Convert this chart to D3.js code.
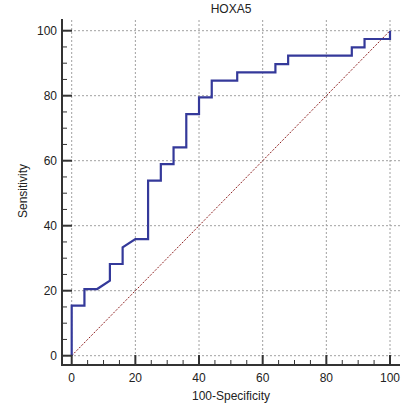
<!DOCTYPE html>
<html><head><meta charset="utf-8">
<script src="https://cdn.jsdelivr.net/npm/d3@7"></script>
<style>body{margin:0;background:#fff}svg{display:block}text{font-family:"Liberation Sans",Arial,sans-serif;fill:#222}</style>
</head><body>
<script>
const title = "HOXA5";
const xLabel = "100-Specificity";
const yLabel = "Sensitivity";
const oneMinusSpecificity = [0,0,4,4,8,12,12,16,16,20,24,24,28,28,32,32,36,36,40,40,44,44,52,52,64,64,68,68,88,88,92,92,100,100];
const sensitivity = [0,15.38,15.38,20.51,20.51,23.08,28.21,28.21,33.33,35.90,35.90,53.85,53.85,58.97,58.97,64.10,64.10,74.36,74.36,79.49,79.49,84.62,84.62,87.18,87.18,89.74,89.74,92.31,92.31,94.87,94.87,97.44,97.44,100];
const majorTicks = [0,20,40,60,80,100];

const W = 413, H = 411;
const svg = d3.select("body").append("svg").attr("width", W).attr("height", H);
const x = d3.scaleLinear().domain([0,100]).range([71.7,390]);
const y = d3.scaleLinear().domain([0,100]).range([355.7,30.7]);
const axX = 62, axY = 365;

// grid
const g = svg.append("g");
majorTicks.forEach(t => {
  g.append("line").attr("x1", x(t)).attr("x2", x(t)).attr("y1", 20).attr("y2", axY)
    .attr("stroke", "#a0a0a0").attr("stroke-width", 1).attr("stroke-dasharray", "2,2");
  g.append("line").attr("x1", axX).attr("x2", 400).attr("y1", y(t)).attr("y2", y(t))
    .attr("stroke", "#a0a0a0").attr("stroke-width", 1).attr("stroke-dasharray", "2,2");
});

// diagonal
svg.append("line").attr("x1", x(0)).attr("y1", y(0)).attr("x2", x(100)).attr("y2", y(100))
  .attr("stroke", "#8e2020").attr("stroke-width", 1).attr("stroke-dasharray", "2,1.5");

// ROC curve
const pts = oneMinusSpecificity.map((v,i) => [v, sensitivity[i]]);
svg.append("path").datum(pts)
  .attr("d", d3.line().x(d => x(d[0])).y(d => y(d[1])))
  .attr("fill", "none").attr("stroke", "#34399a").attr("stroke-width", 2.2);

// axes lines
svg.append("line").attr("x1", axX).attr("x2", axX).attr("y1", 19).attr("y2", axY+1).attr("stroke", "#333").attr("stroke-width", 2);
svg.append("line").attr("x1", axX-1).attr("x2", 400).attr("y1", axY).attr("y2", axY).attr("stroke", "#333").attr("stroke-width", 2);

// ticks
const minor = d3.range(0, 101, 5);
minor.forEach(t => {
  const maj = t % 20 === 0;
  const len = maj ? 10 : 5;
  svg.append("line").attr("x1", axX).attr("x2", axX + len).attr("y1", y(t)).attr("y2", y(t))
    .attr("stroke", "#333").attr("stroke-width", maj ? 2 : 1);
  svg.append("line").attr("y1", axY).attr("y2", axY - len).attr("x1", x(t)).attr("x2", x(t))
    .attr("stroke", "#333").attr("stroke-width", maj ? 2 : 1);
});
majorTicks.forEach(t => {
  svg.append("text").attr("x", 57).attr("y", y(t) + 4).attr("text-anchor", "end")
    .attr("font-size", 12).text(t);
  svg.append("text").attr("x", x(t)).attr("y", 382).attr("text-anchor", "middle")
    .attr("font-size", 12).text(t);
});

svg.append("text").attr("x", 231).attr("y", 13).attr("text-anchor", "middle").attr("font-size", 12).text(title);
svg.append("text").attr("x", 231).attr("y", 400).attr("text-anchor", "middle").attr("font-size", 12).text(xLabel);
svg.append("text").attr("transform", "translate(27,191) rotate(-90)").attr("text-anchor", "middle").attr("font-size", 12).text(yLabel);
</script>
</body></html>
